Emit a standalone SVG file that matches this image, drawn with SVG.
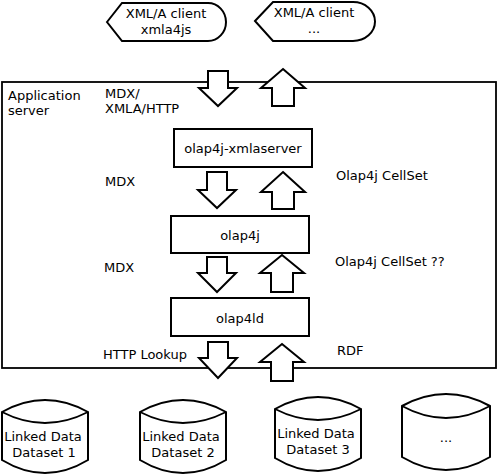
<svg xmlns="http://www.w3.org/2000/svg" width="498" height="475" viewBox="0 0 498 475">
<style>
.s{fill:#fff;stroke:#000;stroke-width:2;stroke-linejoin:miter}
.b{fill:none;stroke:#000;stroke-width:1.8}
.ar{fill:#fff;stroke:#000;stroke-width:2;stroke-linejoin:miter}
text{font-family:"DejaVu Sans","Liberation Sans",sans-serif;font-size:13px;fill:#000}
.c{text-anchor:middle}
</style>
<rect width="498" height="475" fill="#fff"/>
<g id="client1">
<path class="s" d="M107,22 L122,3 L208,3 A18,19 0 0 1 208,41 L122,41 Z"/>
<text class="c" x="166" y="18">XML/A client</text>
<text class="c" x="166" y="34">xmla4js</text>
</g>
<g id="client2">
<path class="s" d="M255,21 L273,2 L353,2 A22,19.5 0 0 1 353,41 L273,41 Z"/>
<text class="c" x="314" y="17">XML/A client</text>
<text class="c" x="314" y="33">...</text>
</g>
<g id="appserver">
<rect class="b" x="2" y="82" width="494" height="286"/>
<text x="8" y="100">Application</text>
<text x="8" y="115">server</text>
</g>
<g id="xmlaserver">
<rect class="s" x="174" y="129" width="138" height="38"/>
<text class="c" x="243" y="153">olap4j-xmlaserver</text>
</g>
<g id="olap4j">
<rect class="s" x="171" y="216" width="138" height="37"/>
<text class="c" x="240" y="240">olap4j</text>
</g>
<g id="olap4ld">
<rect class="s" x="171" y="298" width="138" height="38"/>
<text class="c" x="240" y="323">olap4ld</text>
</g>
<g id="connectors">
<polygon class="ar" points="208,71 228,71 228,88 237,88 218,106 199,88 208,88"/>
<polygon class="ar" points="283,69 305,88 294,88 294,106 272,106 272,88 261,88"/>
<polygon class="ar" points="207,172 227,172 227,190 236,190 217,208 198,190 207,190"/>
<polygon class="ar" points="283,172 305,192 294,192 294,209 272,209 272,192 261,192"/>
<polygon class="ar" points="207,257 227,257 227,273 236,273 217,292 198,273 207,273"/>
<polygon class="ar" points="282,255 304,273 293,273 293,292 271,292 271,273 260,273"/>
<polygon class="ar" points="208,342 228,342 228,358 237,358 218,378 199,358 208,358"/>
<polygon class="ar" points="282,344 304,362 293,362 293,381 271,381 271,362 260,362"/>
<text x="105" y="98">MDX/</text>
<text x="105" y="113">XMLA/HTTP</text>
<text x="105" y="186">MDX</text>
<text x="104" y="272">MDX</text>
<text x="103" y="359">HTTP Lookup</text>
<text x="336" y="180">Olap4j CellSet</text>
<text x="335" y="266">Olap4j CellSet ??</text>
<text x="337" y="355">RDF</text>
</g>
<g id="dataset1">
<path class="s" d="M2,412 Q45,388 88,412 L88,460 Q45,486 2,460 Z"/>
<path class="b" d="M2,412 Q45,434 88,412" stroke-width="2"/>
<text class="c" x="43" y="441">Linked Data</text>
<text class="c" x="44" y="457">Dataset 1</text>
</g>
<g id="dataset2">
<path class="s" d="M140,412 Q183,388 226,412 L226,460 Q183,486 140,460 Z"/>
<path class="b" d="M140,412 Q183,434 226,412" stroke-width="2"/>
<text class="c" x="181" y="441">Linked Data</text>
<text class="c" x="183" y="457">Dataset 2</text>
</g>
<g id="dataset3">
<path class="s" d="M275,409 Q318,385 361,409 L361,458 Q318,484 275,458 Z"/>
<path class="b" d="M275,409 Q318,431 361,409" stroke-width="2"/>
<text class="c" x="316" y="438">Linked Data</text>
<text class="c" x="318" y="454">Dataset 3</text>
</g>
<g id="dataset4">
<path class="s" d="M402,406 Q446,382 490,406 L490,457 Q446,483 402,457 Z"/>
<path class="b" d="M402,406 Q446,430 490,406" stroke-width="2"/>
<text class="c" x="446" y="442">...</text>
</g>
</svg>
